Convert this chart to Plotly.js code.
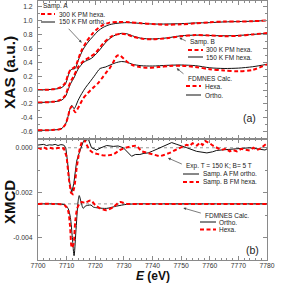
<!DOCTYPE html>
<html><head><meta charset="utf-8">
<script src="https://cdn.plot.ly/plotly-3.0.1.min.js"></script>
<style>html,body{margin:0;padding:0;background:#fff}</style>
</head><body><div id="chart" style="width:299px;height:284px"></div>
<script>
// ---- Panel (a) XAS data ----
const E_A_ortho = [7700,7705,7708,7709.5,7710.5,7711.2,7712,7713,7714,7715.7,7717.5,7719.2,7721,7722.7,7725,7727.6,7731,7735.6,7740,7745,7750,7755,7760,7765,7770,7775,7780];
const XAS_A_ortho = [0,0.01,0.03,0.08,0.2,0.28,0.3,0.31,0.42,0.58,0.69,0.77,0.85,0.9,0.94,0.96,0.97,0.96,0.95,0.95,0.955,0.965,0.97,0.98,0.985,0.99,1.0];
const E_A_hexa = [7700,7705,7708,7709.5,7710.5,7711.5,7712.5,7713.5,7715,7717,7719,7721,7723,7725,7728,7732,7736,7740,7745,7750,7755,7760,7765,7770,7775,7780];
const XAS_A_hexa = [0,0.01,0.04,0.1,0.22,0.3,0.32,0.38,0.55,0.7,0.81,0.89,0.94,0.97,0.98,0.975,0.96,0.95,0.94,0.945,0.96,0.975,0.985,0.985,0.99,1.0];

const E_B_fm = [7700,7705,7708,7709.5,7710.5,7711.5,7712.5,7714,7716,7718.8,7721,7724,7726.5,7729.2,7731,7733,7736,7740,7745,7750,7755,7760,7765,7770,7775,7780];
const XAS_B_fm = [-0.18,-0.17,-0.15,-0.1,0.0,0.1,0.17,0.3,0.4,0.46,0.55,0.7,0.78,0.815,0.81,0.78,0.745,0.735,0.75,0.78,0.79,0.785,0.78,0.785,0.8,0.815];
const E_B_pm = [7700,7705,7708,7709.5,7710.5,7711.5,7712.5,7714,7716,7718,7720,7723,7726,7729,7731,7733,7736,7740,7745,7750,7755,7760,7765,7770,7775,7780];
const XAS_B_pm = [-0.18,-0.17,-0.14,-0.08,0.03,0.13,0.2,0.33,0.42,0.47,0.53,0.68,0.78,0.81,0.8,0.77,0.74,0.73,0.745,0.775,0.79,0.785,0.775,0.78,0.8,0.82];

const E_FD_ortho = [7700,7705,7708,7709.5,7710.5,7711.2,7711.8,7712.6,7713.3,7714,7715.3,7716.7,7718.2,7720,7721.7,7723.5,7725.2,7727,7729.2,7731,7733,7736,7740,7745,7750,7755,7760,7765,7770,7775,7780];
const XAS_FD_ortho = [-0.58,-0.575,-0.56,-0.5,-0.38,-0.27,-0.22,-0.27,-0.22,-0.15,-0.05,0.04,0.12,0.22,0.31,0.33,0.36,0.39,0.41,0.4,0.37,0.35,0.345,0.355,0.36,0.35,0.32,0.31,0.315,0.335,0.37];
const E_FD_hexa = [7700,7705,7708,7709.5,7710.5,7711.2,7711.8,7712.4,7713,7714,7715.8,7717.5,7719.2,7721,7722.7,7724,7725,7726.3,7727.5,7728.5,7729.7,7731,7733,7735.5,7738,7742,7746,7750,7755,7760,7765,7770,7775,7780];
const XAS_FD_hexa = [-0.58,-0.575,-0.56,-0.5,-0.38,-0.27,-0.24,-0.28,-0.32,-0.26,-0.12,-0.04,0.03,0.1,0.19,0.26,0.31,0.4,0.49,0.5,0.46,0.41,0.36,0.33,0.32,0.33,0.345,0.35,0.33,0.3,0.28,0.27,0.29,0.37];

// ---- Panel (b) XMCD data ----
const E_X_A = [7700,7702,7703,7704,7705,7706,7707,7708,7709,7709.7,7710.3,7711,7711.8,7712.5,7713.5,7714,7715.8,7717.6,7718.7,7720.5,7722,7724,7726.3,7728,7729.8,7731,7732.7,7734,7735.6,7737,7738.5,7740,7742.6,7744.5,7746.7,7748.5,7750.2,7752,7755.4,7757,7759,7761,7762.4,7764,7767,7769,7771,7774,7776,7778,7779.3,7780];
const XMCD_A = [0.00012,0.00015,0.0001,0.00013,0.00012,0.00015,0.0001,0.00014,0.00012,0.0,-0.0006,-0.0015,-0.00199,-0.0016,-0.0006,-0.00038,0.00027,0.00038,0.0,-0.0001,0.0,0.0001,0.00006,0.00008,0.0,-0.00015,-0.00038,-0.0003,-0.0003,-0.00025,-0.00023,-0.00015,0.0,0.0001,0.00023,0.00015,0.00006,0.0,-0.00016,-0.00018,-0.00023,-0.00018,-0.00012,-0.0001,-0.00006,-0.00005,-0.00003,0.0,-0.00005,-0.00008,-0.0001,-0.00005];
const E_X_B = [7700,7701,7702,7703,7704,7705,7706,7707,7708,7709,7710,7710.8,7711.5,7712.1,7712.8,7713.5,7714.5,7715.3,7716.2,7717,7718,7719.3,7721,7722.5,7724,7726.3,7728.6,7730.5,7732.7,7734.4,7736.2,7738.5,7740.5,7742.6,7744,7746,7748,7749.6,7750.8,7751.9,7753,7754,7755.5,7756.6,7757.5,7758.5,7760,7761,7762.5,7764,7765.5,7767,7768,7769.5,7771,7772.5,7774,7775.2,7776.4,7777.5,7778.5,7779.7,7780];
const XMCD_B = [0.0,-0.00005,0.00002,-0.00005,0.0,-0.00003,-0.00006,0.0,-0.00004,-0.00002,-0.0004,-0.0014,-0.002,-0.00206,-0.0017,-0.0009,-0.0001,0.00027,0.00035,0.00013,-0.0001,-0.00023,-0.0003,-0.00033,-0.00035,-0.0003,-0.0001,0.0,0.00006,0.0001,-0.00016,-0.00023,-0.0003,-0.00038,-0.00032,-0.00023,-0.0001,0.0,0.00005,0.00013,0.00008,0.0002,0.0001,0.00023,0.00012,0.0003,0.0002,0.0001,0.0,-0.0001,-0.00005,-0.00016,-0.0001,-0.00016,-0.00005,-0.00008,-0.00012,0.0,-0.0001,-0.00005,0.00005,0.00013,0.0002];
const E_XF_ortho = [7700,7705,7708,7709.5,7710.5,7711.3,7712,7712.6,7713.2,7714,7714.4,7715,7715.8,7716.5,7717.3,7718.5,7719.3,7721,7724,7727.5,7731,7735,7740,7750,7760,7770,7780];
const XMCD_F_ortho = [-0.0025,-0.0025,-0.00251,-0.00255,-0.0027,-0.0031,-0.004,-0.00481,-0.0038,-0.0024,-0.00213,-0.0024,-0.0027,-0.0026,-0.00257,-0.00255,-0.00264,-0.00268,-0.0027,-0.0026,-0.00252,-0.0025,-0.0025,-0.0025,-0.0025,-0.0025,-0.0025];
const E_XF_hexa = [7700,7705,7708,7709.5,7710.5,7711.2,7711.8,7712.4,7713,7713.7,7714.5,7715.3,7716.5,7718.4,7720,7721.7,7724,7726.3,7728.6,7731,7735,7740,7750,7760,7770,7780];
const XMCD_F_hexa = [-0.0025,-0.0025,-0.00252,-0.00258,-0.0028,-0.0035,-0.00445,-0.0043,-0.0033,-0.0027,-0.0025,-0.00242,-0.00245,-0.00235,-0.00255,-0.0027,-0.00278,-0.00264,-0.00242,-0.0025,-0.0025,-0.0025,-0.0025,-0.0025,-0.0025,-0.0025];

const xTicks = [7700,7710,7720,7730,7740,7750,7760,7770,7780];
const xTickText = ['7700','7710','7720','7730','7740','7750','7760','7770','7780'];
const yaTicks = [-0.6,-0.4,-0.2,0,0.2,0.4,0.6,0.8,1.0,1.2];
const yaTickText = ['-0.6','-0.4','-0.2','0.0','0.2','0.4','0.6','0.8','1.0','1.2'];
const ybTicks = [-0.004,-0.002,0];
const ybTickText = ['-0.004','-0.002','0.000'];
const refLevels = [0, -0.0025];

// ---- layout helpers (pixel -> paper) ----
const L=38,R=267,T=1,B=260;
const PX = x => (x-L)/(R-L);
const PY = y => (B-y)/(B-T);
const split = PY(139);

const RED='#ff0000', BLK='#111111';
const dashR = {color:RED,width:2,dash:'4px,2.5px'};
const solidK = {color:BLK,width:1};
function tr(x,y,line,xa,ya,spline){
  return {x:x,y:y,type:'scatter',mode:'lines',xaxis:xa,yaxis:ya,
    line:Object.assign({},line,spline?{shape:'spline',smoothing:0.8}:{}),hoverinfo:'skip',showlegend:false};
}
const data = [
  tr(E_A_ortho,XAS_A_ortho,solidK,'x2','y2',true),
  tr(E_A_hexa,XAS_A_hexa,dashR,'x2','y2',true),
  tr(E_B_fm,XAS_B_fm,solidK,'x2','y2',true),
  tr(E_B_pm,XAS_B_pm,dashR,'x2','y2',true),
  tr(E_FD_ortho,XAS_FD_ortho,solidK,'x2','y2',true),
  tr(E_FD_hexa,XAS_FD_hexa,dashR,'x2','y2',true),
  tr(E_X_A,XMCD_A,solidK,'x','y',false),
  tr(E_X_B,XMCD_B,dashR,'x','y',false),
  tr(E_XF_ortho,XMCD_F_ortho,solidK,'x','y',true),
  tr(E_XF_hexa,XMCD_F_hexa,dashR,'x','y',true),
];

const FONT='Liberation Sans, Arial, sans-serif';
const AX='#8a8a8a';
const common = {showgrid:false,zeroline:false,showline:true,linecolor:AX,linewidth:1,mirror:'ticks',
  ticks:'inside',ticklen:4,tickcolor:AX,tickwidth:1,tickfont:{family:FONT,size:6.8,color:'#333'}};

const xa = Object.assign({},common,{range:[7700,7780],tickmode:'array',tickvals:xTicks,ticktext:xTickText,
  anchor:'y',domain:[0,1],ticklabelstandoff:-1,minor:{tickmode:'linear',tick0:7700,dtick:2,ticks:'inside',ticklen:2,tickcolor:AX}});
const xa2 = Object.assign({},common,{range:[7700,7780],tickmode:'array',tickvals:xTicks,showticklabels:false,
  anchor:'y2',matches:'x',minor:{tickmode:'linear',tick0:7700,dtick:2,ticks:'inside',ticklen:2,tickcolor:AX}});
const ya2 = Object.assign({},common,{range:[-0.705,1.281],domain:[split,1],anchor:'x2',tickmode:'array',
  tickvals:yaTicks,ticktext:yaTickText,ticklabelstandoff:3,
  minor:{tickmode:'linear',tick0:0,dtick:0.1,ticks:'inside',ticklen:2,tickcolor:AX}});
const ya = Object.assign({},common,{range:[-0.005,0.00039],domain:[0,split],anchor:'x',tickmode:'array',
  tickvals:ybTicks,ticktext:ybTickText,ticklabelstandoff:3,
  minor:{tickmode:'linear',tick0:0,dtick:0.001,ticks:'inside',ticklen:2,tickcolor:AX}});

const shapes = [];
refLevels.forEach(v=>shapes.push({type:'line',xref:'paper',yref:'y',x0:0,x1:1,y0:v,y1:v,
  line:{color:'#999',width:1,dash:'dot'},layer:'below'}));
function leg(x0,x1,y,line){shapes.push({type:'line',xref:'paper',yref:'paper',x0:PX(x0),x1:PX(x1),y0:PY(y),y1:PY(y),line:line});}
leg(41,55,14,dashR); leg(41,55,22,solidK);
leg(188,203,50,dashR); leg(188,203,57,solidK);
leg(186,201,86,dashR); leg(186,201,95,solidK);
leg(183,199,174,solidK); leg(183,199,182,dashR);
leg(200,216,222,solidK); leg(200,216,229.5,dashR);

const ann = [];
function txt(s,x,y,size,opts){ann.push(Object.assign({text:s,xref:'paper',yref:'paper',x:PX(x),y:PY(y),xanchor:'left',yanchor:'middle',
  showarrow:false,font:{family:FONT,size:size||6.5,color:'#222'}},opts||{}));}
function arrow(hx,hy,tx,ty){ann.push({text:'',xref:'paper',yref:'paper',x:PX(hx),y:PY(hy),ax:tx-hx,ay:ty-hy,
  showarrow:true,arrowhead:2,arrowsize:0.8,arrowwidth:0.7,arrowcolor:'#444',standoff:0});}
txt('Samp. A',41,6);
txt('300 K PM hexa.',57,14);
txt('150 K FM ortho.',57,22);
arrow(81.7,42.7,67.3,27.3);
txt('Samp. B',188,42);
txt('300 K PM hexa.',204,50);
txt('150 K FM hexa.',204,57);
arrow(179.3,37.7,187.3,41.7);
txt('FDMNES Calc.',186,79);
txt('Hexa.',203,86);
txt('Ortho.',203,95);
arrow(176.7,68.3,185,75);
txt('(a)',249,118,10.5,{xanchor:'center'});
txt('Exp. T = 150 K; B= 5 T',184,166);
txt('Samp. A FM ortho.',201,174);
txt('Samp. B FM hexa.',201,182);
arrow(168,158,183.3,164.7);
txt('FDMNES Calc.',203,215);
txt('Ortho.',217,222);
txt('Hexa.',217,229.5);
arrow(183.3,208,202.3,213.5);
txt('(b)',252,250,10.5,{xanchor:'center'});
// axis titles
txt('<b>XAS (a.u.)</b>',9,73,15.5,{xanchor:'center',textangle:-90,font:{family:FONT,size:15.5,color:'#111'}});
txt('<b>XMCD</b>',9,202,15,{xanchor:'center',textangle:-90,font:{family:FONT,size:15,color:'#111'}});
txt('<b><i>E</i> (eV)</b>',152.5,284,12,{xanchor:'center',yanchor:'bottom',borderpad:0,font:{family:FONT,size:12,color:'#111'}});

const layout = {width:299,height:284,margin:{l:L,r:299-R,t:T,b:284-B},paper_bgcolor:'#fff',plot_bgcolor:'#fff',
  showlegend:false,xaxis:xa,xaxis2:xa2,yaxis:ya,yaxis2:ya2,shapes:shapes,annotations:ann,font:{family:FONT}};
Plotly.newPlot('chart',data,layout,{staticPlot:true,displayModeBar:false});
</script></body></html>
